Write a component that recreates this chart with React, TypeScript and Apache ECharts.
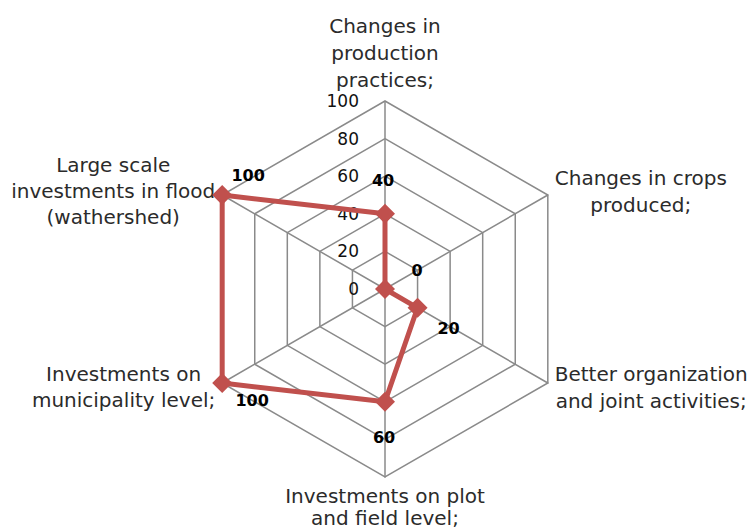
import React, { useEffect, useRef } from 'react';
import * as echarts from 'echarts';

// Indicators listed counter-clockwise starting at the top (ECharts radar order)
const indicatorNames: string[] = [
  'Changes in\nproduction\npractices;',
  'Large scale\ninvestments in flood\n(wathershed)',
  'Investments on\nmunicipality level;',
  'Investments on plot\nand field level;',
  'Better organization\nand joint activities;',
  'Changes in crops\nproduced;',
];
const seriesValues: number[] = [40, 100, 100, 60, 20, 0];
const axisMax = 100;
const axisSplits = 5;

// per-vertex label shift (dx, dy) in px, mimicking the reference's label placement
const labelShift: [number, number][] = [
  [-2, -33],
  [26, -20],
  [30, 17],
  [-1, 36],
  [31, 21],
  [32, -19],
];
// per-name line pitch
const nameLineHeights: number[] = [27, 26, 26, 22, 27, 27];

export default function App() {
  const ref = useRef<HTMLDivElement>(null);
  useEffect(() => {
    if (!ref.current) return;
    const chart = echarts.init(ref.current, null, { renderer: 'svg' });
    const rich: Record<string, any> = {};
    labelShift.forEach(([dx, dy], i) => {
      rich['d' + i] = {
        fontSize: 16,
        fontWeight: 'bold',
        color: '#000',
        fontFamily: 'DejaVu Sans',
        padding: [Math.max(0, 2 * dy), Math.max(0, -2 * dx), Math.max(0, -2 * dy), Math.max(0, 2 * dx)],
      };
    });
    const nameRich: Record<string, any> = {};
    nameLineHeights.forEach((lh, i) => {
      nameRich['n' + i] = {
        align: 'center',
        color: '#2b2b2b',
        fontFamily: 'DejaVu Sans',
        fontSize: 20,
        lineHeight: lh,
      };
    });
    const gridColor = '#8a8a8a';
    chart.setOption({
      animation: false,
      backgroundColor: '#fff',
      radar: {
        center: [385, 289],
        radius: 188,
        startAngle: 90,
        splitNumber: axisSplits,
        shape: 'polygon',
        nameGap: 8,
        axisName: {
          color: '#2b2b2b',
          fontFamily: 'DejaVu Sans',
          fontSize: 20,
          formatter: (name: string) => {
            const idx = Math.max(0, indicatorNames.indexOf(name));
            return name
              .split('\n')
              .map((l) => `{n${idx}|${l}}`)
              .join('\n');
          },
          rich: nameRich,
        },
        splitLine: { lineStyle: { color: gridColor, width: 1.5 } },
        splitArea: { show: false },
        axisLine: { lineStyle: { color: gridColor, width: 1.5 } },
        axisTick: { show: false },
        axisLabel: { show: false },
        indicator: indicatorNames.map((name, i) =>
          i === 0
            ? {
                name,
                min: 0,
                max: axisMax,
                axisLabel: {
                  show: true,
                  color: '#111',
                  fontSize: 17,
                  fontFamily: 'DejaVu Sans',
                  margin: 26,
                },
              }
            : { name, min: 0, max: axisMax }
        ),
      },
      series: [
        {
          type: 'radar',
          symbol: 'diamond',
          symbolSize: 20,
          lineStyle: { color: '#C0504D', width: 5 },
          itemStyle: { color: '#C0504D' },
          label: {
            show: true,
            position: 'inside',
            formatter: (p: any) => {
              const i = p.dimensionIndex ?? 0;
              return `{d${i}|${p.value}}`;
            },
            rich,
          },
          data: [{ value: seriesValues, name: 'Series' }],
        },
      ],
    });
    return () => chart.dispose();
  }, []);
  return (
    <div
      ref={ref}
      style={{ position: 'fixed', left: 0, top: 0, width: 750, height: 530 }}
    />
  );
}
